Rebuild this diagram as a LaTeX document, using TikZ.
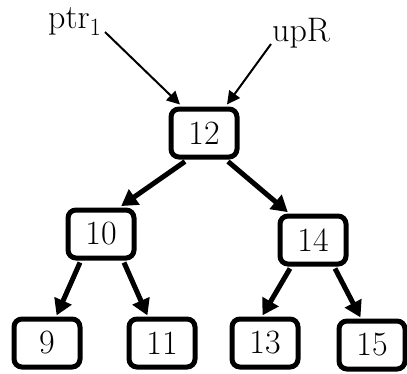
\documentclass[tikz,border=0pt]{standalone}
\usetikzlibrary{arrows.meta,calc}
\begin{document}
\begin{tikzpicture}[x=1pt,y=-1pt,
  tnode/.style={draw,line width=5pt,rounded corners=8pt,minimum width=66pt,minimum height=48pt,inner sep=0pt,font=\fontsize{34}{40}\selectfont},
  lbl/.style={inner sep=0pt,font=\fontsize{34}{40}\selectfont},
  tedge/.style={line width=5pt,-{Triangle[length=16pt,width=18pt]},shorten >=-1pt},
  pedge/.style={line width=2pt,-{Triangle[length=13pt,width=13pt]}}]
\useasboundingbox (0,0) rectangle (407,373);
\node[tnode] (n12) at (204,133) {12};
\node[tnode] (n10) at (101,234) {10};
\node[tnode] (n14) at (313,240) {14};
\node[tnode] (n9) at (47,343) {9};
\node[tnode] (n11) at (162,343) {11};
\node[tnode] (n13) at (265,343) {13};
\node[tnode] (n15) at (372,345) {15};
\node[lbl,anchor=base west] (ptr) at (48,28) {ptr$_1$};
\node[lbl,anchor=base west] (upr) at (272,41) {upR};
\coordinate (ps) at (105,32);
\coordinate (us) at (271,44);
\draw[pedge] (ps) -- ($(n12.north)+(-24,-2)$);
\draw[pedge] (us) -- ($(n12.north)+(23,-2)$);
\draw[tedge] ($(n12.south)+(-19,2)$) -- ($(n10.north)+(21,-2)$);
\draw[tedge] ($(n12.south)+(24,2)$) -- ($(n14.north)+(-26,-2)$);
\draw[tedge] ($(n10.south)+(-21,2)$) -- ($(n9.north)+(10,-2)$);
\draw[tedge] ($(n10.south)+(23,2)$) -- ($(n11.north)+(-15,-2)$);
\draw[tedge] ($(n14.south)+(-23,2)$) -- ($(n13.north)+(-2,-2)$);
\draw[tedge] ($(n14.south)+(22,2)$) -- ($(n15.north)+(-12,-2)$);
\end{tikzpicture}
\end{document}
